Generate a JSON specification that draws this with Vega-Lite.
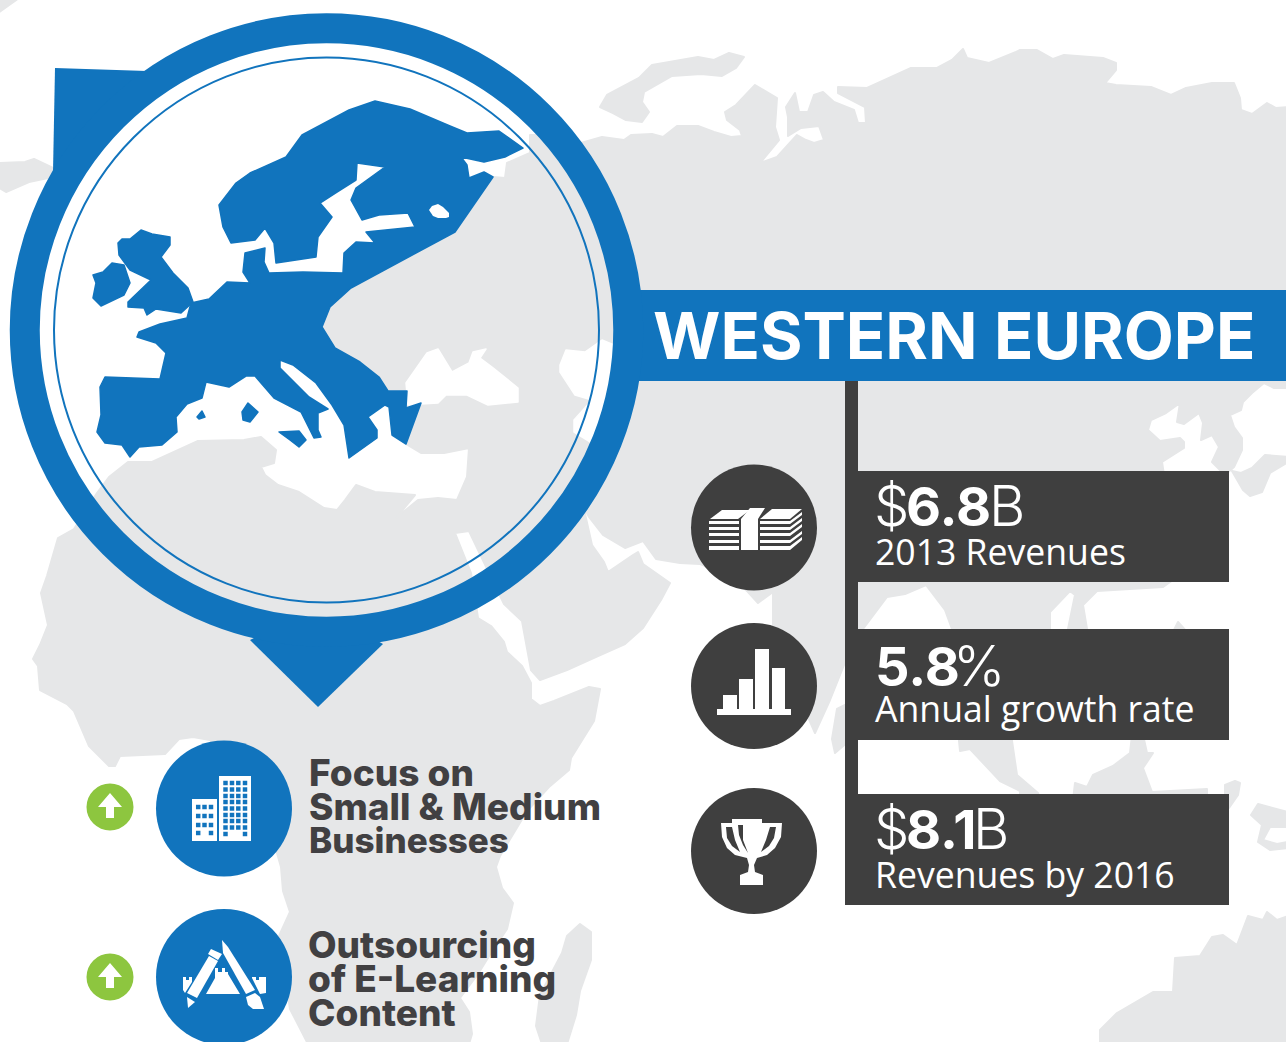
{"$schema":"https://vega.github.io/schema/vega-lite/v6.json","width":1286,"height":1042,"padding":0,"autosize":{"type":"none"},"background":"#ffffff","config":{"view":{"stroke":null}},"projection":{"type":"identity","scale":1,"translate":[0,0]},"layer":[
{"data":{"values":[
{"type":"Feature","properties":{"name":"Eurasia and Africa"},"geometry":{"type":"Polygon","coordinates":[[[493,177],[505,178],[507,163],[530,153],[530,135],[539,135],[581,143],[602,137],[624,140],[631,135],[652,134],[663,137],[677,126],[698,126],[714,132],[731,137],[742,136],[740,130],[727,120],[725,112],[736,105],[755,85],[777,98],[775,127],[779,140],[760,163],[777,157],[797,135],[806,140],[814,143],[824,140],[819,126],[801,128],[788,136],[788,117],[786,107],[795,93],[799,112],[808,112],[814,95],[823,92],[834,102],[854,110],[858,123],[866,123],[865,107],[838,93],[838,87],[867,88],[889,78],[911,68],[937,68],[952,60],[963,49],[967,58],[989,63],[1016,52],[1020,50],[1037,50],[1053,59],[1064,55],[1103,58],[1116,63],[1116,70],[1105,83],[1116,85],[1151,87],[1171,95],[1186,88],[1212,83],[1234,83],[1240,98],[1241,110],[1252,114],[1267,103],[1276,108],[1288,107],[1288,388],[1274,388],[1264,383],[1252,393],[1243,402],[1241,410],[1230,415],[1234,427],[1242,438],[1242,450],[1234,467],[1225,475],[1221,471],[1212,462],[1219,447],[1212,435],[1201,440],[1203,423],[1199,413],[1184,424],[1177,422],[1180,403],[1166,413],[1151,420],[1148,430],[1160,441],[1180,438],[1184,442],[1184,448],[1162,462],[1164,475],[1173,480],[1173,580],[1163,587],[1097,591],[1083,605],[1087,629],[1085,640],[1072,640],[1068,629],[1075,595],[1070,591],[1050,612],[1050,629],[1015,700],[1012,741],[1017,775],[1038,793],[1040,800],[1020,800],[1020,791],[1000,781],[970,749],[960,751],[955,700],[952,629],[945,610],[926,585],[905,594],[887,597],[863,629],[850,650],[830,700],[815,733],[808,717],[800,700],[773,625],[773,592],[758,603],[748,592],[730,575],[700,564],[680,563],[656,559],[643,541],[625,548],[603,535],[589,517],[583,505],[592,545],[604,562],[608,572],[633,555],[638,552],[643,564],[670,583],[661,600],[643,628],[625,644],[598,656],[567,670],[540,680],[531,670],[522,621],[504,604],[490,575],[469,531],[455,533],[471,573],[478,618],[491,626],[504,642],[507,652],[522,666],[531,683],[531,699],[540,706],[554,701],[589,687],[600,689],[594,721],[571,758],[569,770],[549,787],[527,811],[500,856],[496,867],[502,888],[513,903],[507,929],[491,953],[478,974],[460,998],[469,1012],[472,1034],[469,1044],[308,1044],[290,1009],[279,936],[290,912],[283,891],[281,867],[277,853],[265,830],[210,740],[193,737],[179,739],[165,754],[120,756],[115,766],[109,766],[89,746],[74,711],[67,704],[40,690],[38,666],[33,659],[40,645],[48,625],[41,593],[47,576],[58,538],[74,529],[97,493],[109,477],[128,462],[152,462],[198,441],[244,440],[261,437],[276,450],[274,463],[261,467],[265,475],[278,485],[299,492],[324,508],[337,510],[345,500],[356,485],[375,492],[415,495],[396,518],[418,500],[438,498],[457,500],[467,477],[469,448],[444,453],[421,453],[406,444],[395,400],[370,385],[340,360],[315,327],[340,285],[450,225],[488,178],[493,177]]]}},
{"type":"Feature","properties":{"name":"Novaya Zemlya"},"geometry":{"type":"Polygon","coordinates":[[[600,107],[607,95],[639,78],[652,65],[698,57],[714,60],[729,53],[744,57],[736,68],[722,76],[701,74],[672,76],[644,92],[642,102],[649,112],[642,122],[626,120],[613,113],[600,107]]]}},
{"type":"Feature","properties":{"name":"Japan"},"geometry":{"type":"Polygon","coordinates":[[[1232,471],[1241,473],[1252,468],[1265,455],[1288,457],[1288,462],[1270,473],[1262,492],[1250,496],[1243,490],[1232,471]]]}},
{"type":"Feature","properties":{"name":"Sumatra"},"geometry":{"type":"Polygon","coordinates":[[[1073,800],[1075,783],[1087,787],[1093,775],[1113,766],[1130,753],[1132,735],[1143,735],[1147,753],[1153,753],[1143,768],[1152,792],[1207,789],[1207,800],[1073,800]]]}},
{"type":"Feature","properties":{"name":"Island A"},"geometry":{"type":"Polygon","coordinates":[[[1225,785],[1235,781],[1240,783],[1238,795],[1229,808],[1225,808],[1225,785]]]}},
{"type":"Feature","properties":{"name":"Island B"},"geometry":{"type":"Polygon","coordinates":[[[1173,632],[1178,622],[1187,632],[1173,632]]]}},
{"type":"Feature","properties":{"name":"New Guinea"},"geometry":{"type":"Polygon","coordinates":[[[1251,815],[1258,804],[1288,812],[1288,827],[1270,827],[1263,840],[1277,844],[1288,842],[1288,848],[1270,850],[1258,842],[1262,825],[1251,815]]]}},
{"type":"Feature","properties":{"name":"Australia"},"geometry":{"type":"Polygon","coordinates":[[[1100,1044],[1100,1030],[1117,1013],[1153,992],[1173,992],[1175,958],[1200,956],[1212,937],[1223,935],[1237,945],[1248,916],[1263,920],[1267,912],[1277,920],[1288,916],[1288,1044],[1100,1044]]]}},
{"type":"Feature","properties":{"name":"Greenland tip"},"geometry":{"type":"Polygon","coordinates":[[[-2,163],[25,162],[34,159],[53,168],[48,178],[29,182],[6,192],[-2,187],[-2,163]]]}},
{"type":"Feature","properties":{"name":"Corner"},"geometry":{"type":"Polygon","coordinates":[[[-2,-2],[19,-2],[-2,13],[-2,-2]]]}},
{"type":"Feature","properties":{"name":"Madagascar"},"geometry":{"type":"Polygon","coordinates":[[[567,936],[580,924],[591,932],[591,960],[580,991],[576,1015],[567,1044],[542,1044],[536,1026],[540,995],[562,953],[567,936]]]}},
{"type":"Feature","properties":{"name":"Sri Lanka"},"geometry":{"type":"Polygon","coordinates":[[[837,709],[845,705],[850,740],[835,753],[832,739],[837,709]]]}}
]},"mark":{"type":"geoshape","fill":"#e6e7e8","stroke":"#e6e7e8","strokeWidth":2,"strokeJoin":"round"}},
{"data":{"values":[
{"type":"Feature","properties":{"name":"Black Sea"},"geometry":{"type":"Polygon","coordinates":[[[408,405],[406,383],[427,353],[438,349],[452,372],[469,363],[473,352],[486,349],[480,358],[492,367],[518,388],[518,402],[488,405],[467,395],[446,395],[438,403],[421,404],[408,405]]]}},
{"type":"Feature","properties":{"name":"Caspian Sea"},"geometry":{"type":"Polygon","coordinates":[[[560,365],[566,350],[585,352],[602,340],[614,345],[610,370],[606,400],[600,420],[592,443],[574,432],[574,420],[592,400],[575,395],[560,372],[560,365]]]}}
]},"mark":{"type":"geoshape","fill":"#ffffff","stroke":"#ffffff","strokeWidth":1.5,"strokeJoin":"round"}},
{"data":{"values":[
{"type":"Feature","properties":{"name":"Continental Europe"},"geometry":{"type":"Polygon","coordinates":[[[219,205],[236,183],[250,173],[286,157],[302,135],[349,110],[375,101],[410,109],[450,126],[467,133],[499,131],[509,138],[523,148],[505,157],[484,162],[461,157],[467,165],[469,178],[484,172],[493,177],[455,232],[351,288],[330,307],[322,327],[335,348],[360,362],[379,377],[388,391],[407,391],[406,408],[421,403],[406,444],[392,435],[389,407],[385,405],[368,417],[377,430],[377,438],[349,458],[344,425],[332,405],[316,383],[293,365],[280,360],[280,368],[295,383],[309,397],[328,409],[318,413],[318,430],[321,437],[314,438],[309,428],[301,412],[274,398],[261,383],[255,376],[246,376],[229,387],[206,382],[202,398],[187,404],[176,417],[177,432],[162,445],[139,447],[130,457],[122,445],[105,443],[97,432],[101,415],[100,387],[105,377],[160,379],[166,353],[156,343],[137,337],[139,332],[160,324],[187,318],[191,303],[209,299],[227,282],[250,283],[243,272],[245,253],[265,248],[264,262],[269,273],[303,272],[343,273],[344,253],[356,242],[375,243],[366,232],[415,227],[408,213],[379,215],[362,220],[351,200],[356,188],[385,167],[357,163],[356,180],[337,192],[320,203],[332,217],[318,237],[316,257],[276,263],[274,243],[265,228],[255,240],[231,243],[223,227],[219,205]]]}},
{"type":"Feature","properties":{"name":"Britain"},"geometry":{"type":"Polygon","coordinates":[[[118,243],[122,239],[130,239],[141,230],[152,234],[170,237],[170,245],[161,257],[173,273],[188,288],[193,302],[181,313],[156,309],[147,315],[144,308],[128,307],[128,302],[151,280],[130,270],[119,255],[118,243]]]}},
{"type":"Feature","properties":{"name":"Ireland"},"geometry":{"type":"Polygon","coordinates":[[[93,275],[103,272],[112,263],[124,265],[130,283],[124,295],[101,306],[93,298],[96,283],[93,275]]]}},
{"type":"Feature","properties":{"name":"Corsica"},"geometry":{"type":"Polygon","coordinates":[[[242,412],[248,403],[258,412],[250,422],[243,420],[242,412]]]}},
{"type":"Feature","properties":{"name":"Balearic"},"geometry":{"type":"Polygon","coordinates":[[[197,417],[202,411],[205,417],[199,419],[197,417]]]}},
{"type":"Feature","properties":{"name":"Sicily"},"geometry":{"type":"Polygon","coordinates":[[[279,432],[299,431],[306,440],[299,447],[290,440],[279,432]]]}}
]},"mark":{"type":"geoshape","fill":"#1174bd","stroke":"#1174bd","strokeWidth":1.5,"strokeJoin":"round"}},
{"data":{"values":[
{"type":"Feature","properties":{"name":"Pointer corner"},"geometry":{"type":"Polygon","coordinates":[[[55,68],[147,71],[111,122],[53,172],[55,68]]]}},
{"type":"Feature","properties":{"name":"Pointer tip"},"geometry":{"type":"Polygon","coordinates":[[[250,640],[285,622],[317,620],[350,625],[383,644],[318,707],[250,640]]]}},
{"type":"Feature","properties":{"name":"Banner"},"geometry":{"type":"Polygon","coordinates":[[[625,290],[1286,290],[1286,381],[625,381],[625,290]]]}}
]},"mark":{"type":"geoshape","fill":"#1174bd","stroke":null}},
{"data":{"values":[{"type":"Feature","properties":{"name":"Lake"},"geometry":{"type":"Polygon","coordinates":[[[429,210],[432,206],[438,204],[443,207],[449,213],[449,217],[446,218],[438,218],[433,216],[429,210]]]}}]},"mark":{"type":"geoshape","fill":"#ffffff","stroke":null}},
{"data":{"values":[{"x":326.5,"y":330}]},"mark":{"type":"point","filled":false,"size":364212,"strokeWidth":30,"color":"#1174bd","opacity":1},"encoding":{"longitude":{"field":"x","type":"quantitative"},"latitude":{"field":"y","type":"quantitative"}}},
{"data":{"values":[{"x":326.5,"y":330}]},"mark":{"type":"point","filled":false,"size":297025,"strokeWidth":2,"color":"#1174bd","opacity":1},"encoding":{"longitude":{"field":"x","type":"quantitative"},"latitude":{"field":"y","type":"quantitative"}}},
{"data":{"values":[
{"type":"Feature","properties":{"name":"Spine"},"geometry":{"type":"Polygon","coordinates":[[[845,381],[858,381],[858,905],[845,905],[845,381]]]}},
{"type":"Feature","properties":{"name":"Panel 1"},"geometry":{"type":"Polygon","coordinates":[[[858,471],[1229,471],[1229,582],[858,582],[858,471]]]}},
{"type":"Feature","properties":{"name":"Panel 2"},"geometry":{"type":"Polygon","coordinates":[[[858,629],[1229,629],[1229,740],[858,740],[858,629]]]}},
{"type":"Feature","properties":{"name":"Panel 3"},"geometry":{"type":"Polygon","coordinates":[[[858,794],[1229,794],[1229,905],[858,905],[858,794]]]}}
]},"mark":{"type":"geoshape","fill":"#3f3f3f","stroke":null}},
{"data":{"values":[{"x":754,"y":527.5},{"x":754,"y":686},{"x":754,"y":851}]},"mark":{"type":"point","filled":true,"shape":"circle","size":15876,"color":"#3f3f3f","opacity":1,"strokeWidth":0},"encoding":{"longitude":{"field":"x","type":"quantitative"},"latitude":{"field":"y","type":"quantitative"}}},
{"data":{"values":[{"x":224,"y":808.5},{"x":224,"y":977}]},"mark":{"type":"point","filled":true,"shape":"circle","size":18496,"color":"#1174bd","opacity":1,"strokeWidth":0},"encoding":{"longitude":{"field":"x","type":"quantitative"},"latitude":{"field":"y","type":"quantitative"}}},
{"data":{"values":[{"x":110,"y":807},{"x":110,"y":977}]},"mark":{"type":"point","filled":true,"shape":"circle","size":2209,"color":"#8dc63f","opacity":1,"strokeWidth":0},"encoding":{"longitude":{"field":"x","type":"quantitative"},"latitude":{"field":"y","type":"quantitative"}}},
{"data":{"values":[
{"type":"Feature","properties":{"name":"Arrow 1"},"geometry":{"type":"Polygon","coordinates":[[[110,793],[122,807],[114,807],[114,818],[106,818],[106,807],[98,807],[110,793]]]}},
{"type":"Feature","properties":{"name":"Arrow 2"},"geometry":{"type":"Polygon","coordinates":[[[110,963],[122,977],[114,977],[114,988],[106,988],[106,977],[98,977],[110,963]]]}},
{"type":"Feature","properties":{"name":"Building small"},"geometry":{"type":"Polygon","coordinates":[[[192,799],[217,799],[217,841],[192,841],[192,799]]]}},
{"type":"Feature","properties":{"name":"Building large"},"geometry":{"type":"Polygon","coordinates":[[[219,776],[251,776],[251,841],[219,841],[219,776]]]}},
{"type":"Feature","properties":{"name":"Pencil"},"geometry":{"type":"Polygon","coordinates":[[[209,956],[218,961],[197,998],[187,993],[209,956]]]}},
{"type":"Feature","properties":{"name":"Eraser"},"geometry":{"type":"Polygon","coordinates":[[[211,949],[222,954],[218,960],[208,954],[211,949]]]}},
{"type":"Feature","properties":{"name":"Pencil tip"},"geometry":{"type":"Polygon","coordinates":[[[187,997],[195,1002],[188,1008],[187,997]]]}},
{"type":"Feature","properties":{"name":"Brush"},"geometry":{"type":"Polygon","coordinates":[[[222,940],[228,947],[255,990],[246,994],[223,953],[222,940]]]}},
{"type":"Feature","properties":{"name":"Brush head"},"geometry":{"type":"Polygon","coordinates":[[[246,997],[255,993],[260,997],[264,1009],[253,1009],[248,1005],[246,997]]]}},
{"type":"Feature","properties":{"name":"Ruler mid"},"geometry":{"type":"Polygon","coordinates":[[[206,994],[215,978],[215,968],[218,968],[218,972],[222,972],[222,968],[225,968],[225,972],[228,972],[228,974],[240,994],[206,994]]]}},
{"type":"Feature","properties":{"name":"Ruler left"},"geometry":{"type":"Polygon","coordinates":[[[183,977],[186,977],[186,980],[189,980],[189,977],[192,977],[192,982],[185,993],[183,990],[183,977]]]}},
{"type":"Feature","properties":{"name":"Ruler right"},"geometry":{"type":"Polygon","coordinates":[[[252,977],[256,977],[256,980],[259,980],[259,977],[266,977],[266,993],[260,994],[252,978],[252,977]]]}},
{"type":"Feature","properties":{"name":"Bar 1"},"geometry":{"type":"Polygon","coordinates":[[[723,695],[737,695],[737,709],[723,709],[723,695]]]}},
{"type":"Feature","properties":{"name":"Bar 2"},"geometry":{"type":"Polygon","coordinates":[[[739,679],[753,679],[753,709],[739,709],[739,679]]]}},
{"type":"Feature","properties":{"name":"Bar 3"},"geometry":{"type":"Polygon","coordinates":[[[755,649],[769,649],[769,709],[755,709],[755,649]]]}},
{"type":"Feature","properties":{"name":"Bar 4"},"geometry":{"type":"Polygon","coordinates":[[[772,668],[785,668],[785,709],[772,709],[772,668]]]}},
{"type":"Feature","properties":{"name":"Base"},"geometry":{"type":"Polygon","coordinates":[[[717,709],[791,709],[791,715],[717,715],[717,709]]]}},
{"type":"Feature","properties":{"name":"Trophy"},"geometry":{"type":"Polygon","coordinates":[[[732,819],[762,819],[762,823],[782,823],[781,837],[775,848],[767,855],[757,858],[754,865],[755,872],[763,875],[763,885],[740,885],[740,875],[748,872],[749,865],[747,858],[735,855],[727,848],[722,837],[721,823],[732,823],[732,819]]]}},
{"type":"Feature","properties":{"name":"Bills top left"},"geometry":{"type":"Polygon","coordinates":[[[722,510],[750,510],[738,519],[710,519],[722,510]]]}},
{"type":"Feature","properties":{"name":"Bills top right"},"geometry":{"type":"Polygon","coordinates":[[[772,509],[802,509],[790,519],[760,519],[772,509]]]}},
{"type":"Feature","properties":{"name":"Strap"},"geometry":{"type":"Polygon","coordinates":[[[741,550],[758,550],[758,519],[765,508],[750,508],[741,519],[741,550]]]}},
{"type":"Feature","properties":{"name":"L1"},"geometry":{"type":"Polygon","coordinates":[[[709,521],[739,521],[739,524],[709,524],[709,521]]]}},
{"type":"Feature","properties":{"name":"L2"},"geometry":{"type":"Polygon","coordinates":[[[709,527],[739,527],[739,530],[709,530],[709,527]]]}},
{"type":"Feature","properties":{"name":"L3"},"geometry":{"type":"Polygon","coordinates":[[[709,533],[739,533],[739,536],[709,536],[709,533]]]}},
{"type":"Feature","properties":{"name":"L4"},"geometry":{"type":"Polygon","coordinates":[[[709,540],[739,540],[739,543],[709,543],[709,540]]]}},
{"type":"Feature","properties":{"name":"L5"},"geometry":{"type":"Polygon","coordinates":[[[709,546],[739,546],[739,550],[709,550],[709,546]]]}},
{"type":"Feature","properties":{"name":"R1"},"geometry":{"type":"Polygon","coordinates":[[[760,521],[790,521],[802,512],[802,515],[790,524],[760,524],[760,521]]]}},
{"type":"Feature","properties":{"name":"R2"},"geometry":{"type":"Polygon","coordinates":[[[760,527],[790,527],[802,518],[802,521],[790,530],[760,530],[760,527]]]}},
{"type":"Feature","properties":{"name":"R3"},"geometry":{"type":"Polygon","coordinates":[[[760,533],[790,533],[802,524],[802,527],[790,536],[760,536],[760,533]]]}},
{"type":"Feature","properties":{"name":"R4"},"geometry":{"type":"Polygon","coordinates":[[[760,540],[790,540],[802,531],[802,534],[790,543],[760,543],[760,540]]]}},
{"type":"Feature","properties":{"name":"R5"},"geometry":{"type":"Polygon","coordinates":[[[760,546],[790,546],[802,537],[802,540],[790,550],[760,550],[760,546]]]}}
]},"mark":{"type":"geoshape","fill":"#ffffff","stroke":null}},
{"data":{"values":[
{"type":"Feature","properties":{"name":"Handle left"},"geometry":{"type":"Polygon","coordinates":[[[726,827],[732,827],[735,840],[740,852],[732,846],[727,838],[726,827]]]}},
{"type":"Feature","properties":{"name":"Handle right"},"geometry":{"type":"Polygon","coordinates":[[[776,827],[770,827],[766,840],[761,852],[769,846],[774,838],[776,827]]]}},
{"type":"Feature","properties":{"name":"Slot"},"geometry":{"type":"Polygon","coordinates":[[[738,825],[743,825],[743,840],[748,853],[743,845],[739,835],[738,825]]]}}
]},"mark":{"type":"geoshape","fill":"#3f3f3f","stroke":null}},
{"data":{"values":[
{"x":225.5,"y":783},{"x":232,"y":783},{"x":238.3,"y":783},{"x":245,"y":783},
{"x":225.5,"y":789.5},{"x":232,"y":789.5},{"x":238.3,"y":789.5},{"x":245,"y":789.5},
{"x":225.5,"y":796},{"x":232,"y":796},{"x":238.3,"y":796},{"x":245,"y":796},
{"x":225.5,"y":802},{"x":232,"y":802},{"x":238.3,"y":802},{"x":245,"y":802},
{"x":225.5,"y":808.5},{"x":232,"y":808.5},{"x":238.3,"y":808.5},{"x":245,"y":808.5},
{"x":225.5,"y":815},{"x":232,"y":815},{"x":238.3,"y":815},{"x":245,"y":815},
{"x":225.5,"y":821},{"x":232,"y":821},{"x":238.3,"y":821},{"x":245,"y":821},
{"x":225.5,"y":827.5},{"x":232,"y":827.5},{"x":238.3,"y":827.5},{"x":245,"y":827.5},
{"x":225.5,"y":834},{"x":245,"y":834},
{"x":198.2,"y":807},{"x":204.5,"y":807},{"x":211,"y":807},
{"x":198.2,"y":816},{"x":204.5,"y":816},{"x":211,"y":816},
{"x":198.2,"y":825},{"x":204.5,"y":825},{"x":211,"y":825},
{"x":198.2,"y":833},{"x":211,"y":833}
]},"mark":{"type":"point","filled":true,"shape":"square","size":20,"color":"#1174bd","opacity":1,"strokeWidth":0},"encoding":{"longitude":{"field":"x","type":"quantitative"},"latitude":{"field":"y","type":"quantitative"}}},
{"data":{"values":[{"x":653,"y":359,"t":"WESTERN"},{"x":994,"y":359,"t":"EUROPE"}]},"mark":{"type":"text","font":"Inter","fontWeight":700,"fontSize":65,"align":"left","baseline":"alphabetic","color":"#ffffff"},"encoding":{"longitude":{"field":"x","type":"quantitative"},"latitude":{"field":"y","type":"quantitative"},"text":{"field":"t"}}},
{"data":{"values":[{"x":309,"y":786,"t":"Focus on"},{"x":309,"y":820,"t":"Small & Medium"},{"x":308,"y":958,"t":"Outsourcing"},{"x":308,"y":992,"t":"of E-Learning"},{"x":308,"y":1026,"t":"Content"}]},"mark":{"type":"text","font":"Inter","fontWeight":800,"fontSize":37,"align":"left","baseline":"alphabetic","color":"#414042"},"encoding":{"longitude":{"field":"x","type":"quantitative"},"latitude":{"field":"y","type":"quantitative"},"text":{"field":"t"}}},
{"data":{"values":[{"x":309,"y":853,"t":"Businesses"}]},"mark":{"type":"text","font":"Inter","fontWeight":800,"fontSize":35,"align":"left","baseline":"alphabetic","color":"#414042"},"encoding":{"longitude":{"field":"x","type":"quantitative"},"latitude":{"field":"y","type":"quantitative"},"text":{"field":"t"}}},
{"data":{"values":[{"x":875,"y":565,"t":"2013 Revenues"},{"x":875,"y":722,"t":"Annual growth rate"},{"x":875,"y":888,"t":"Revenues by 2016"}]},"mark":{"type":"text","font":"Open Sans","fontWeight":400,"fontSize":35.6,"align":"left","baseline":"alphabetic","color":"#ffffff"},"encoding":{"longitude":{"field":"x","type":"quantitative"},"latitude":{"field":"y","type":"quantitative"},"text":{"field":"t"}}},
{"data":{"values":[{"x":906,"y":526,"t":"6.8"},{"x":875,"y":686,"t":"5.8"},{"x":906,"y":849,"t":"8.1"}]},"mark":{"type":"text","font":"Inter","fontWeight":700,"fontSize":54,"align":"left","baseline":"alphabetic","color":"#ffffff"},"encoding":{"longitude":{"field":"x","type":"quantitative"},"latitude":{"field":"y","type":"quantitative"},"text":{"field":"t"}}},
{"data":{"values":[{"x":874,"y":526,"t":"$"},{"x":989,"y":526,"t":"B"},{"x":953,"y":686,"t":"%"},{"x":874,"y":849,"t":"$"},{"x":973,"y":849,"t":"B"}]},"mark":{"type":"text","font":"Inter","fontWeight":300,"fontSize":56,"align":"left","baseline":"alphabetic","color":"#ffffff"},"encoding":{"longitude":{"field":"x","type":"quantitative"},"latitude":{"field":"y","type":"quantitative"},"text":{"field":"t"}}}
]}
